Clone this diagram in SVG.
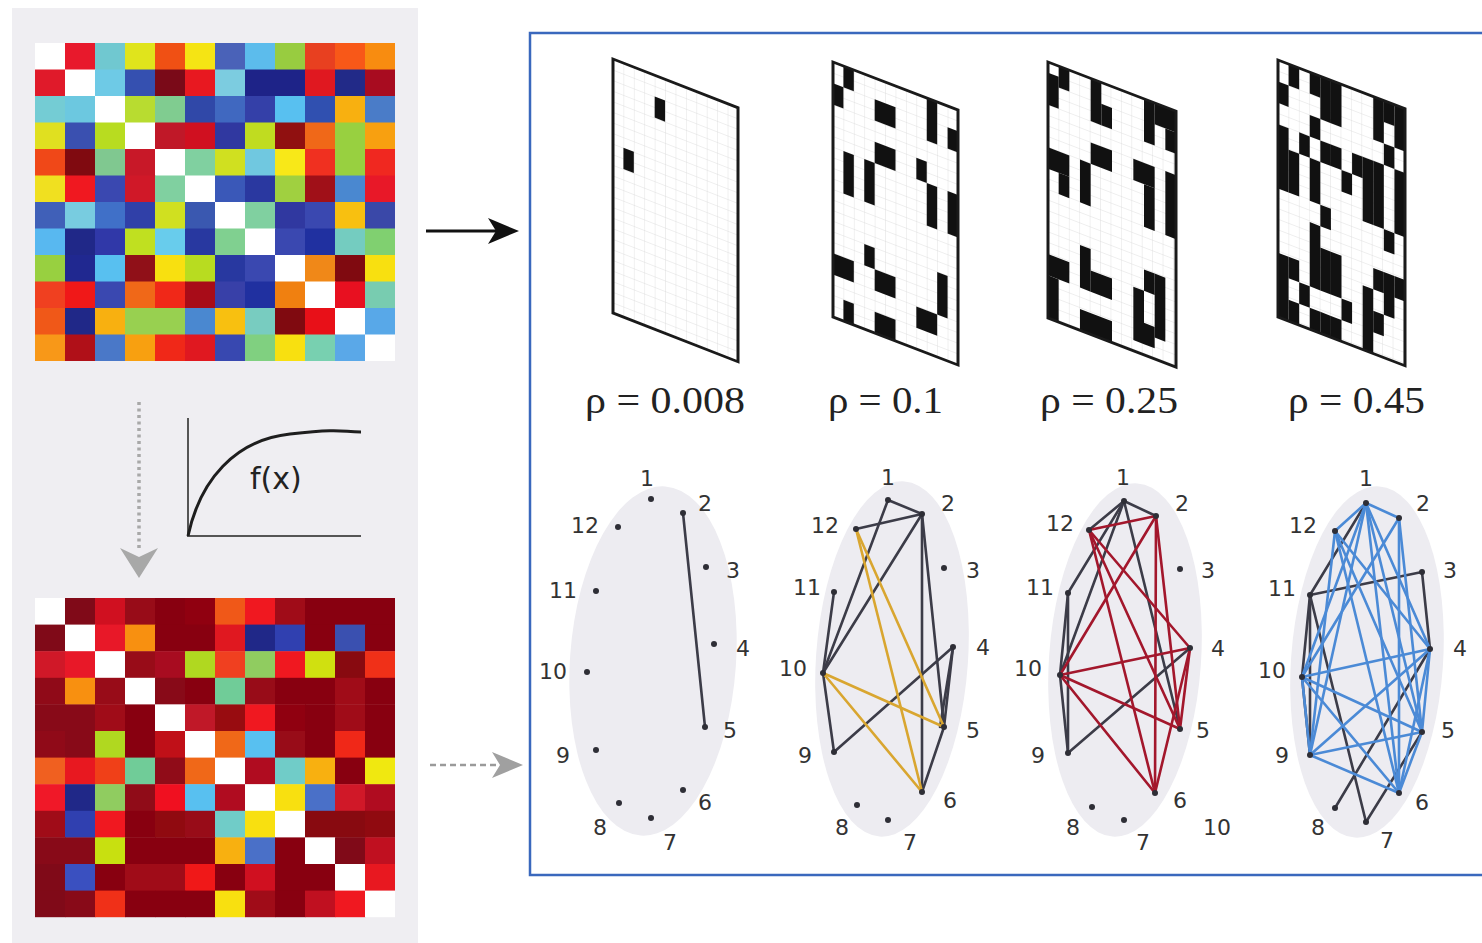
<svg xmlns="http://www.w3.org/2000/svg" width="1482" height="943" viewBox="0 0 1482 943">
<style>
.gn circle{fill:#2e2e36}
.gn text{font-family:"DejaVu Sans",sans-serif;font-size:22px;fill:#333;text-anchor:middle}
.e line{stroke-width:2.6;fill:none;stroke-linecap:round}
.eg line{stroke:#3c3c48}
.ey line{stroke:#d9a630}
.er line{stroke:#a3172c}
.eb line{stroke:#4b8ad6}
.rho{font-family:"Liberation Serif",serif;font-size:38px;fill:#222}
.bc rect{fill:#111}
.frame{fill:none;stroke:#1a1a1a;stroke-width:3}
.ell{fill:#edecf1}
</style>
<defs>
<pattern id="gp" patternUnits="userSpaceOnUse" width="10.417" height="10.583">
<path d="M0 0H10.417M0 0V10.583" stroke="#d2d2d2" stroke-width="0.7" fill="none"/>
</pattern>
</defs>
<rect x="0" y="0" width="1482" height="943" fill="#fff"/>
<rect x="12" y="8" width="406" height="935" fill="#efeef2"/>

<g id="matrix-top">
<g transform="translate(35,43)"><rect x="0" width="30.5" height="27" fill="#ffffff"/><rect x="30" width="30.5" height="27" fill="#e8192c"/><rect x="60" width="30.5" height="27" fill="#70c8d0"/><rect x="90" width="30.5" height="27" fill="#e0e41c"/><rect x="120" width="30.5" height="27" fill="#f05014"/><rect x="150" width="30.5" height="27" fill="#f5e414"/><rect x="180" width="30.5" height="27" fill="#4a62b8"/><rect x="210" width="30.5" height="27" fill="#5cbcec"/><rect x="240" width="30.5" height="27" fill="#98cc40"/><rect x="270" width="30.5" height="27" fill="#e84020"/><rect x="300" width="30.5" height="27" fill="#f85818"/><rect x="330" width="30" height="27" fill="#f88c10"/></g>
<g transform="translate(35,69.5)"><rect x="0" width="30.5" height="27" fill="#e01a2a"/><rect x="30" width="30.5" height="27" fill="#ffffff"/><rect x="60" width="30.5" height="27" fill="#6ecae6"/><rect x="90" width="30.5" height="27" fill="#3550b0"/><rect x="120" width="30.5" height="27" fill="#7a0a18"/><rect x="150" width="30.5" height="27" fill="#e81820"/><rect x="180" width="30.5" height="27" fill="#7ccce0"/><rect x="210" width="30.5" height="27" fill="#1e2388"/><rect x="240" width="30.5" height="27" fill="#1e2388"/><rect x="270" width="30.5" height="27" fill="#e01820"/><rect x="300" width="30.5" height="27" fill="#222a88"/><rect x="330" width="30" height="27" fill="#a80c20"/></g>
<g transform="translate(35,96)"><rect x="0" width="30.5" height="27" fill="#74ccd4"/><rect x="30" width="30.5" height="27" fill="#6cc8e0"/><rect x="60" width="30.5" height="27" fill="#ffffff"/><rect x="90" width="30.5" height="27" fill="#b8dc30"/><rect x="120" width="30.5" height="27" fill="#80cc90"/><rect x="150" width="30.5" height="27" fill="#3048a8"/><rect x="180" width="30.5" height="27" fill="#4068c0"/><rect x="210" width="30.5" height="27" fill="#3440a8"/><rect x="240" width="30.5" height="27" fill="#58c0f0"/><rect x="270" width="30.5" height="27" fill="#3050b0"/><rect x="300" width="30.5" height="27" fill="#f8b010"/><rect x="330" width="30" height="27" fill="#4a7cc8"/></g>
<g transform="translate(35,122.5)"><rect x="0" width="30.5" height="27" fill="#e0e020"/><rect x="30" width="30.5" height="27" fill="#3a50b0"/><rect x="60" width="30.5" height="27" fill="#b8dc20"/><rect x="90" width="30.5" height="27" fill="#ffffff"/><rect x="120" width="30.5" height="27" fill="#c01828"/><rect x="150" width="30.5" height="27" fill="#d01020"/><rect x="180" width="30.5" height="27" fill="#3038a0"/><rect x="210" width="30.5" height="27" fill="#c0dc20"/><rect x="240" width="30.5" height="27" fill="#901010"/><rect x="270" width="30.5" height="27" fill="#f06818"/><rect x="300" width="30.5" height="27" fill="#98d040"/><rect x="330" width="30" height="27" fill="#f8a010"/></g>
<g transform="translate(35,149)"><rect x="0" width="30.5" height="27" fill="#f04818"/><rect x="30" width="30.5" height="27" fill="#800a10"/><rect x="60" width="30.5" height="27" fill="#80c890"/><rect x="90" width="30.5" height="27" fill="#c81828"/><rect x="120" width="30.5" height="27" fill="#ffffff"/><rect x="150" width="30.5" height="27" fill="#80d0a0"/><rect x="180" width="30.5" height="27" fill="#d0e020"/><rect x="210" width="30.5" height="27" fill="#70c8e0"/><rect x="240" width="30.5" height="27" fill="#f8e818"/><rect x="270" width="30.5" height="27" fill="#f03020"/><rect x="300" width="30.5" height="27" fill="#98d040"/><rect x="330" width="30" height="27" fill="#f02820"/></g>
<g transform="translate(35,175.5)"><rect x="0" width="30.5" height="27" fill="#f0e020"/><rect x="30" width="30.5" height="27" fill="#f01820"/><rect x="60" width="30.5" height="27" fill="#3a48b0"/><rect x="90" width="30.5" height="27" fill="#d01828"/><rect x="120" width="30.5" height="27" fill="#80d0a0"/><rect x="150" width="30.5" height="27" fill="#ffffff"/><rect x="180" width="30.5" height="27" fill="#3a58b8"/><rect x="210" width="30.5" height="27" fill="#2a38a0"/><rect x="240" width="30.5" height="27" fill="#a0d040"/><rect x="270" width="30.5" height="27" fill="#a01018"/><rect x="300" width="30.5" height="27" fill="#4a88d0"/><rect x="330" width="30" height="27" fill="#e81828"/></g>
<g transform="translate(35,202)"><rect x="0" width="30.5" height="27" fill="#4060b8"/><rect x="30" width="30.5" height="27" fill="#78cce0"/><rect x="60" width="30.5" height="27" fill="#4070c8"/><rect x="90" width="30.5" height="27" fill="#3040a8"/><rect x="120" width="30.5" height="27" fill="#d0e020"/><rect x="150" width="30.5" height="27" fill="#3a58b0"/><rect x="180" width="30.5" height="27" fill="#ffffff"/><rect x="210" width="30.5" height="27" fill="#80d0a0"/><rect x="240" width="30.5" height="27" fill="#3038a0"/><rect x="270" width="30.5" height="27" fill="#3a48b0"/><rect x="300" width="30.5" height="27" fill="#f8c010"/><rect x="330" width="30" height="27" fill="#3a48a8"/></g>
<g transform="translate(35,228.5)"><rect x="0" width="30.5" height="27" fill="#58b8f0"/><rect x="30" width="30.5" height="27" fill="#202888"/><rect x="60" width="30.5" height="27" fill="#3038a8"/><rect x="90" width="30.5" height="27" fill="#c0e020"/><rect x="120" width="30.5" height="27" fill="#68ccec"/><rect x="150" width="30.5" height="27" fill="#2838a0"/><rect x="180" width="30.5" height="27" fill="#80d090"/><rect x="210" width="30.5" height="27" fill="#ffffff"/><rect x="240" width="30.5" height="27" fill="#3a48b0"/><rect x="270" width="30.5" height="27" fill="#2030a0"/><rect x="300" width="30.5" height="27" fill="#74ccc0"/><rect x="330" width="30" height="27" fill="#80d070"/></g>
<g transform="translate(35,255)"><rect x="0" width="30.5" height="27" fill="#98d040"/><rect x="30" width="30.5" height="27" fill="#202890"/><rect x="60" width="30.5" height="27" fill="#58c0f0"/><rect x="90" width="30.5" height="27" fill="#901018"/><rect x="120" width="30.5" height="27" fill="#f8e010"/><rect x="150" width="30.5" height="27" fill="#b8dc20"/><rect x="180" width="30.5" height="27" fill="#2838a0"/><rect x="210" width="30.5" height="27" fill="#3a48b0"/><rect x="240" width="30.5" height="27" fill="#ffffff"/><rect x="270" width="30.5" height="27" fill="#f08818"/><rect x="300" width="30.5" height="27" fill="#800a10"/><rect x="330" width="30" height="27" fill="#f8e010"/></g>
<g transform="translate(35,281.5)"><rect x="0" width="30.5" height="27" fill="#f04020"/><rect x="30" width="30.5" height="27" fill="#f01818"/><rect x="60" width="30.5" height="27" fill="#3a48b0"/><rect x="90" width="30.5" height="27" fill="#f06818"/><rect x="120" width="30.5" height="27" fill="#f02818"/><rect x="150" width="30.5" height="27" fill="#a80c18"/><rect x="180" width="30.5" height="27" fill="#3840a8"/><rect x="210" width="30.5" height="27" fill="#2030a0"/><rect x="240" width="30.5" height="27" fill="#f08010"/><rect x="270" width="30.5" height="27" fill="#ffffff"/><rect x="300" width="30.5" height="27" fill="#e81020"/><rect x="330" width="30" height="27" fill="#78ccb0"/></g>
<g transform="translate(35,308)"><rect x="0" width="30.5" height="27" fill="#f05818"/><rect x="30" width="30.5" height="27" fill="#202888"/><rect x="60" width="30.5" height="27" fill="#f8b010"/><rect x="90" width="30.5" height="27" fill="#98d050"/><rect x="120" width="30.5" height="27" fill="#98d050"/><rect x="150" width="30.5" height="27" fill="#4a88d0"/><rect x="180" width="30.5" height="27" fill="#f8c010"/><rect x="210" width="30.5" height="27" fill="#78ccc0"/><rect x="240" width="30.5" height="27" fill="#800a10"/><rect x="270" width="30.5" height="27" fill="#e81018"/><rect x="300" width="30.5" height="27" fill="#ffffff"/><rect x="330" width="30" height="27" fill="#58a8e8"/></g>
<g transform="translate(35,334.5)"><rect x="0" width="30.5" height="26.5" fill="#f89818"/><rect x="30" width="30.5" height="26.5" fill="#b01018"/><rect x="60" width="30.5" height="26.5" fill="#4a78c8"/><rect x="90" width="30.5" height="26.5" fill="#f8a010"/><rect x="120" width="30.5" height="26.5" fill="#f02818"/><rect x="150" width="30.5" height="26.5" fill="#e01820"/><rect x="180" width="30.5" height="26.5" fill="#3848b0"/><rect x="210" width="30.5" height="26.5" fill="#80d080"/><rect x="240" width="30.5" height="26.5" fill="#f8e010"/><rect x="270" width="30.5" height="26.5" fill="#78d0b0"/><rect x="300" width="30.5" height="26.5" fill="#5aa8e8"/><rect x="330" width="30" height="26.5" fill="#ffffff"/></g>
</g>

<g id="matrix-bottom">
<g transform="translate(35,598)"><rect x="0" width="30.5" height="27" fill="#ffffff"/><rect x="30" width="30.5" height="27" fill="#800a18"/><rect x="60" width="30.5" height="27" fill="#d01020"/><rect x="90" width="30.5" height="27" fill="#980c18"/><rect x="120" width="30.5" height="27" fill="#880010"/><rect x="150" width="30.5" height="27" fill="#900010"/><rect x="180" width="30.5" height="27" fill="#f05818"/><rect x="210" width="30.5" height="27" fill="#f01820"/><rect x="240" width="30.5" height="27" fill="#a00c18"/><rect x="270" width="30.5" height="27" fill="#880010"/><rect x="300" width="30.5" height="27" fill="#880010"/><rect x="330" width="30" height="27" fill="#880010"/></g>
<g transform="translate(35,624.6)"><rect x="0" width="30.5" height="27" fill="#800a18"/><rect x="30" width="30.5" height="27" fill="#ffffff"/><rect x="60" width="30.5" height="27" fill="#e81828"/><rect x="90" width="30.5" height="27" fill="#f89010"/><rect x="120" width="30.5" height="27" fill="#880010"/><rect x="150" width="30.5" height="27" fill="#880010"/><rect x="180" width="30.5" height="27" fill="#e01820"/><rect x="210" width="30.5" height="27" fill="#202888"/><rect x="240" width="30.5" height="27" fill="#3040b0"/><rect x="270" width="30.5" height="27" fill="#880010"/><rect x="300" width="30.5" height="27" fill="#3a50b0"/><rect x="330" width="30" height="27" fill="#880010"/></g>
<g transform="translate(35,651.2)"><rect x="0" width="30.5" height="27" fill="#d01828"/><rect x="30" width="30.5" height="27" fill="#e81828"/><rect x="60" width="30.5" height="27" fill="#ffffff"/><rect x="90" width="30.5" height="27" fill="#980c18"/><rect x="120" width="30.5" height="27" fill="#a80c20"/><rect x="150" width="30.5" height="27" fill="#b0d820"/><rect x="180" width="30.5" height="27" fill="#f04020"/><rect x="210" width="30.5" height="27" fill="#90cc60"/><rect x="240" width="30.5" height="27" fill="#f01820"/><rect x="270" width="30.5" height="27" fill="#d0e010"/><rect x="300" width="30.5" height="27" fill="#880a10"/><rect x="330" width="30" height="27" fill="#f03018"/></g>
<g transform="translate(35,677.8)"><rect x="0" width="30.5" height="27" fill="#900a18"/><rect x="30" width="30.5" height="27" fill="#f89010"/><rect x="60" width="30.5" height="27" fill="#980c18"/><rect x="90" width="30.5" height="27" fill="#ffffff"/><rect x="120" width="30.5" height="27" fill="#880a18"/><rect x="150" width="30.5" height="27" fill="#880010"/><rect x="180" width="30.5" height="27" fill="#70cc98"/><rect x="210" width="30.5" height="27" fill="#980c18"/><rect x="240" width="30.5" height="27" fill="#880010"/><rect x="270" width="30.5" height="27" fill="#880010"/><rect x="300" width="30.5" height="27" fill="#a00c18"/><rect x="330" width="30" height="27" fill="#880010"/></g>
<g transform="translate(35,704.4)"><rect x="0" width="30.5" height="27" fill="#880a18"/><rect x="30" width="30.5" height="27" fill="#880a18"/><rect x="60" width="30.5" height="27" fill="#a00c18"/><rect x="90" width="30.5" height="27" fill="#880010"/><rect x="120" width="30.5" height="27" fill="#ffffff"/><rect x="150" width="30.5" height="27" fill="#c01828"/><rect x="180" width="30.5" height="27" fill="#980c10"/><rect x="210" width="30.5" height="27" fill="#f01820"/><rect x="240" width="30.5" height="27" fill="#900010"/><rect x="270" width="30.5" height="27" fill="#880010"/><rect x="300" width="30.5" height="27" fill="#a00c18"/><rect x="330" width="30" height="27" fill="#880010"/></g>
<g transform="translate(35,731)"><rect x="0" width="30.5" height="27" fill="#900a18"/><rect x="30" width="30.5" height="27" fill="#880a18"/><rect x="60" width="30.5" height="27" fill="#b0d820"/><rect x="90" width="30.5" height="27" fill="#880010"/><rect x="120" width="30.5" height="27" fill="#c01018"/><rect x="150" width="30.5" height="27" fill="#ffffff"/><rect x="180" width="30.5" height="27" fill="#f06818"/><rect x="210" width="30.5" height="27" fill="#58c0f0"/><rect x="240" width="30.5" height="27" fill="#980c18"/><rect x="270" width="30.5" height="27" fill="#880010"/><rect x="300" width="30.5" height="27" fill="#f02818"/><rect x="330" width="30" height="27" fill="#880010"/></g>
<g transform="translate(35,757.6)"><rect x="0" width="30.5" height="27" fill="#f06020"/><rect x="30" width="30.5" height="27" fill="#e81820"/><rect x="60" width="30.5" height="27" fill="#f04018"/><rect x="90" width="30.5" height="27" fill="#70cc98"/><rect x="120" width="30.5" height="27" fill="#900c18"/><rect x="150" width="30.5" height="27" fill="#f06818"/><rect x="180" width="30.5" height="27" fill="#ffffff"/><rect x="210" width="30.5" height="27" fill="#b00c20"/><rect x="240" width="30.5" height="27" fill="#70ccc8"/><rect x="270" width="30.5" height="27" fill="#f8b010"/><rect x="300" width="30.5" height="27" fill="#880010"/><rect x="330" width="30" height="27" fill="#f0e810"/></g>
<g transform="translate(35,784.2)"><rect x="0" width="30.5" height="27" fill="#f01828"/><rect x="30" width="30.5" height="27" fill="#202888"/><rect x="60" width="30.5" height="27" fill="#90cc60"/><rect x="90" width="30.5" height="27" fill="#900c18"/><rect x="120" width="30.5" height="27" fill="#f01020"/><rect x="150" width="30.5" height="27" fill="#58c0f0"/><rect x="180" width="30.5" height="27" fill="#b00c20"/><rect x="210" width="30.5" height="27" fill="#ffffff"/><rect x="240" width="30.5" height="27" fill="#f8e010"/><rect x="270" width="30.5" height="27" fill="#4a70c8"/><rect x="300" width="30.5" height="27" fill="#d01828"/><rect x="330" width="30" height="27" fill="#b00c20"/></g>
<g transform="translate(35,810.8)"><rect x="0" width="30.5" height="27" fill="#a00c18"/><rect x="30" width="30.5" height="27" fill="#3040b0"/><rect x="60" width="30.5" height="27" fill="#f01820"/><rect x="90" width="30.5" height="27" fill="#880010"/><rect x="120" width="30.5" height="27" fill="#900a10"/><rect x="150" width="30.5" height="27" fill="#980c18"/><rect x="180" width="30.5" height="27" fill="#70ccc8"/><rect x="210" width="30.5" height="27" fill="#f8e010"/><rect x="240" width="30.5" height="27" fill="#ffffff"/><rect x="270" width="30.5" height="27" fill="#880a10"/><rect x="300" width="30.5" height="27" fill="#880a10"/><rect x="330" width="30" height="27" fill="#900a10"/></g>
<g transform="translate(35,837.4)"><rect x="0" width="30.5" height="27" fill="#880a18"/><rect x="30" width="30.5" height="27" fill="#880a18"/><rect x="60" width="30.5" height="27" fill="#c8e010"/><rect x="90" width="30.5" height="27" fill="#880010"/><rect x="120" width="30.5" height="27" fill="#880010"/><rect x="150" width="30.5" height="27" fill="#880010"/><rect x="180" width="30.5" height="27" fill="#f8b010"/><rect x="210" width="30.5" height="27" fill="#4a70c8"/><rect x="240" width="30.5" height="27" fill="#880010"/><rect x="270" width="30.5" height="27" fill="#ffffff"/><rect x="300" width="30.5" height="27" fill="#800a18"/><rect x="330" width="30" height="27" fill="#c01020"/></g>
<g transform="translate(35,864)"><rect x="0" width="30.5" height="27" fill="#800a18"/><rect x="30" width="30.5" height="27" fill="#3a50c0"/><rect x="60" width="30.5" height="27" fill="#880010"/><rect x="90" width="30.5" height="27" fill="#a00c18"/><rect x="120" width="30.5" height="27" fill="#a00c18"/><rect x="150" width="30.5" height="27" fill="#f01818"/><rect x="180" width="30.5" height="27" fill="#880010"/><rect x="210" width="30.5" height="27" fill="#d01020"/><rect x="240" width="30.5" height="27" fill="#880010"/><rect x="270" width="30.5" height="27" fill="#880010"/><rect x="300" width="30.5" height="27" fill="#ffffff"/><rect x="330" width="30" height="27" fill="#e81820"/></g>
<g transform="translate(35,890.6)"><rect x="0" width="30.5" height="26.6" fill="#800a18"/><rect x="30" width="30.5" height="26.6" fill="#880a18"/><rect x="60" width="30.5" height="26.6" fill="#f03018"/><rect x="90" width="30.5" height="26.6" fill="#880010"/><rect x="120" width="30.5" height="26.6" fill="#880010"/><rect x="150" width="30.5" height="26.6" fill="#880010"/><rect x="180" width="30.5" height="26.6" fill="#f8e010"/><rect x="210" width="30.5" height="26.6" fill="#a00c18"/><rect x="240" width="30.5" height="26.6" fill="#880010"/><rect x="270" width="30.5" height="26.6" fill="#c01020"/><rect x="300" width="30.5" height="26.6" fill="#f01820"/><rect x="330" width="30" height="26.6" fill="#ffffff"/></g>
</g>

<g id="fx-plot">
<path d="M188 418V536H361" fill="none" stroke="#555" stroke-width="2"/>
<path d="M188 536C200 480 235 440 290 434S340 432 361 432" fill="none" stroke="#1e1e1e" stroke-width="3"/>
<text x="250" y="489" font-family="DejaVu Sans, sans-serif" font-size="30" fill="#222">f(x)</text>
</g>

<rect id="frame" x="530" y="33" width="970" height="842" fill="none" stroke="#3a68bd" stroke-width="2.5"/>

<g id="grid1" transform="translate(613,59) skewY(21.3)">
<rect width="125" height="254" fill="#fff"/><rect width="125" height="254" fill="url(#gp)"/>
<g class="bc" transform="scale(10.417,10.583)"><rect x="4" y="2" width="1" height="2"/><rect x="1" y="8" width="1" height="2"/></g>
<rect class="frame" width="125" height="254"/>
</g>
<g id="grid2" transform="translate(833,62) skewY(21)">
<rect width="125" height="255" fill="#fff"/><rect width="125" height="255" fill="url(#gp)"/>
<g class="bc" transform="scale(10.417,10.625)">
<rect x="1" y="0" width="1" height="2"/><rect x="0" y="2" width="1" height="2"/><rect x="4" y="2" width="2" height="2"/><rect x="9" y="0" width="1" height="4"/><rect x="11" y="2" width="1" height="2"/><rect x="4" y="6" width="2" height="2"/><rect x="1" y="8" width="1" height="4"/><rect x="3" y="8" width="1" height="4"/><rect x="8" y="6" width="1" height="2"/><rect x="9" y="8" width="1" height="4"/><rect x="11" y="8" width="1" height="4"/><rect x="3" y="16" width="1" height="2"/><rect x="0" y="18" width="2" height="2"/><rect x="4" y="18" width="2" height="2"/><rect x="10" y="16" width="1" height="4"/><rect x="1" y="22" width="1" height="2"/><rect x="4" y="22" width="2" height="2"/><rect x="8" y="20" width="2" height="2"/>
</g>
<rect class="frame" width="125" height="255"/>
</g>
<g id="grid3" transform="translate(1048,62) skewY(21)">
<rect width="128" height="256" fill="#fff"/><rect width="128" height="256" fill="url(#gp)"/>
<g class="bc" transform="scale(10.667,10.667)">
<rect x="1" y="0" width="1" height="2"/><rect x="0" y="1" width="1" height="3"/><rect x="4" y="0" width="1" height="4"/><rect x="5" y="2" width="1" height="2"/><rect x="9" y="0" width="1" height="4"/><rect x="10" y="0" width="2" height="2"/><rect x="11" y="2" width="1" height="2"/><rect x="4" y="6" width="2" height="2"/><rect x="0" y="8" width="2" height="2"/><rect x="1" y="10" width="1" height="2"/><rect x="3" y="8" width="1" height="4"/><rect x="8" y="6" width="2" height="2"/><rect x="9" y="8" width="1" height="4"/><rect x="11" y="6" width="1" height="6"/><rect x="3" y="16" width="1" height="4"/><rect x="0" y="18" width="2" height="2"/><rect x="4" y="18" width="2" height="2"/><rect x="0" y="20" width="1" height="4"/><rect x="3" y="22" width="3" height="2"/><rect x="8" y="18" width="1" height="5"/><rect x="9" y="16" width="1" height="2"/><rect x="9" y="21" width="1" height="2"/><rect x="10" y="16" width="1" height="6"/>
</g>
<rect class="frame" width="128" height="256"/>
</g>
<g id="grid4" transform="translate(1278,60) skewY(21)">
<rect width="127" height="257" fill="#fff"/><rect width="127" height="257" fill="url(#gp)"/>
<g class="bc" transform="scale(10.583,10.708)">
<rect x="0" y="2" width="1" height="2"/><rect x="0" y="6" width="1" height="6"/><rect x="0" y="18" width="1" height="6"/>
<rect x="1" y="0" width="1" height="2"/><rect x="1" y="8" width="1" height="4"/><rect x="1" y="18" width="1" height="2"/><rect x="1" y="22" width="1" height="2"/>
<rect x="2" y="6" width="1" height="2"/><rect x="2" y="20" width="1" height="2"/>
<rect x="3" y="0" width="1" height="2"/><rect x="3" y="4" width="1" height="2"/><rect x="3" y="8" width="1" height="4"/><rect x="3" y="14" width="1" height="6"/><rect x="3" y="22" width="1" height="2"/>
<rect x="4" y="0" width="1" height="4"/><rect x="4" y="6" width="1" height="2"/><rect x="4" y="12" width="1" height="2"/><rect x="4" y="16" width="1" height="4"/><rect x="4" y="22" width="1" height="2"/>
<rect x="5" y="0" width="1" height="4"/><rect x="5" y="6" width="1" height="2"/><rect x="5" y="16" width="1" height="4"/><rect x="5" y="22" width="1" height="2"/>
<rect x="6" y="8" width="1" height="2"/><rect x="6" y="20" width="1" height="2"/>
<rect x="7" y="6" width="1" height="2"/>
<rect x="8" y="6" width="1" height="6"/><rect x="8" y="18" width="1" height="6"/>
<rect x="9" y="0" width="1" height="4"/><rect x="9" y="6" width="1" height="6"/><rect x="9" y="16" width="1" height="2"/><rect x="9" y="20" width="1" height="2"/>
<rect x="10" y="0" width="1" height="2"/><rect x="10" y="4" width="1" height="2"/><rect x="10" y="12" width="1" height="2"/><rect x="10" y="16" width="1" height="4"/>
<rect x="11" y="0" width="1" height="4"/><rect x="11" y="6" width="1" height="6"/><rect x="11" y="16" width="1" height="2"/>
</g>
<rect class="frame" width="127" height="257"/>
</g>

<g id="rho-labels">
<text class="rho" x="585" y="413" textLength="160" lengthAdjust="spacingAndGlyphs">ρ = 0.008</text>
<text class="rho" x="828" y="413" textLength="115" lengthAdjust="spacingAndGlyphs">ρ = 0.1</text>
<text class="rho" x="1040" y="413" textLength="138" lengthAdjust="spacingAndGlyphs">ρ = 0.25</text>
<text class="rho" x="1288" y="413" textLength="137" lengthAdjust="spacingAndGlyphs">ρ = 0.45</text>
</g>

<g id="ellipses">
<ellipse class="ell" cx="653" cy="661" rx="83" ry="175" transform="rotate(4 653 661)"/>
<ellipse class="ell" cx="892" cy="659" rx="76" ry="178" transform="rotate(4 892 659)"/>
<ellipse class="ell" cx="1125" cy="660" rx="76" ry="177" transform="rotate(4 1125 660)"/>
<ellipse class="ell" cx="1367" cy="662" rx="76" ry="176" transform="rotate(4 1367 662)"/>
</g>

<g id="connectors">
<g id="arrows">
<line x1="426" y1="231" x2="506" y2="231" stroke="#111" stroke-width="3"/>
<polygon points="488,218 519,231 488,244 496,231" fill="#111"/>
<line x1="430" y1="765" x2="500" y2="765" stroke="#9a9a9a" stroke-width="2.5" stroke-dasharray="6 4"/>
<polygon points="492,752 523,765 492,778 500,765" fill="#a0a0a0"/>
<line x1="139" y1="402" x2="139" y2="548" stroke="#a8a8a8" stroke-width="3.5" stroke-dasharray="3 3.5"/>
<polygon points="120,548 139,557 158,548 139,578" fill="#a8a8a8"/>
</g>
<g class="e eg">
<line x1="683" y1="513" x2="705" y2="727"/>
</g>
<g class="e eg">
<line x1="888" y1="500" x2="922" y2="514"/><line x1="888" y1="500" x2="823" y2="673"/><line x1="856" y1="529" x2="922" y2="514"/><line x1="922" y1="514" x2="823" y2="673"/><line x1="922" y1="514" x2="922" y2="792"/><line x1="922" y1="514" x2="944" y2="727"/><line x1="834" y1="592" x2="823" y2="673"/><line x1="823" y1="673" x2="834" y2="752"/><line x1="834" y1="752" x2="953" y2="647"/><line x1="953" y1="647" x2="944" y2="727"/><line x1="953" y1="647" x2="940" y2="727"/><line x1="944" y1="727" x2="922" y2="792"/>
</g>
<g class="e ey">
<line x1="856" y1="529" x2="944" y2="727"/><line x1="856" y1="529" x2="922" y2="792"/><line x1="823" y1="673" x2="944" y2="727"/><line x1="823" y1="673" x2="922" y2="792"/>
</g>
<g class="e eg">
<line x1="1124" y1="501" x2="1156" y2="516"/><line x1="1124" y1="501" x2="1089" y2="530"/><line x1="1124" y1="501" x2="1068" y2="593"/><line x1="1124" y1="501" x2="1060" y2="675"/><line x1="1124" y1="501" x2="1180" y2="729"/><line x1="1068" y1="593" x2="1060" y2="675"/><line x1="1068" y1="593" x2="1068" y2="753"/><line x1="1060" y1="675" x2="1068" y2="753"/><line x1="1068" y1="753" x2="1190" y2="648"/>
</g>
<g class="e er">
<line x1="1089" y1="530" x2="1156" y2="516"/><line x1="1156" y1="516" x2="1060" y2="675"/><line x1="1156" y1="516" x2="1155" y2="793"/><line x1="1156" y1="516" x2="1180" y2="729"/><line x1="1089" y1="530" x2="1190" y2="648"/><line x1="1089" y1="530" x2="1180" y2="729"/><line x1="1089" y1="530" x2="1155" y2="793"/><line x1="1060" y1="675" x2="1190" y2="648"/><line x1="1060" y1="675" x2="1180" y2="729"/><line x1="1060" y1="675" x2="1155" y2="793"/><line x1="1190" y1="648" x2="1180" y2="729"/><line x1="1190" y1="648" x2="1155" y2="793"/>
</g>
<g class="e eg">
<line x1="1366" y1="503" x2="1310" y2="595"/><line x1="1310" y1="595" x2="1422" y2="572"/><line x1="1422" y1="572" x2="1430" y2="649"/><line x1="1310" y1="595" x2="1302" y2="677"/><line x1="1310" y1="595" x2="1310" y2="755"/><line x1="1310" y1="595" x2="1366" y2="822"/><line x1="1430" y1="649" x2="1335" y2="808"/><line x1="1422" y1="732" x2="1366" y2="822"/><line x1="1302" y1="677" x2="1310" y2="755"/>
</g>
<g class="e eb">
<line x1="1366" y1="503" x2="1335" y2="531"/><line x1="1366" y1="503" x2="1399" y2="518"/><line x1="1366" y1="503" x2="1302" y2="677"/><line x1="1366" y1="503" x2="1310" y2="755"/><line x1="1366" y1="503" x2="1422" y2="732"/><line x1="1366" y1="503" x2="1399" y2="793"/><line x1="1366" y1="503" x2="1430" y2="649"/><line x1="1399" y1="518" x2="1302" y2="677"/><line x1="1399" y1="518" x2="1399" y2="793"/><line x1="1399" y1="518" x2="1422" y2="732"/><line x1="1335" y1="531" x2="1422" y2="732"/><line x1="1335" y1="531" x2="1399" y2="793"/><line x1="1335" y1="531" x2="1430" y2="649"/><line x1="1335" y1="531" x2="1310" y2="755"/><line x1="1302" y1="677" x2="1430" y2="649"/><line x1="1302" y1="677" x2="1422" y2="732"/><line x1="1302" y1="677" x2="1399" y2="793"/><line x1="1310" y1="755" x2="1430" y2="649"/><line x1="1310" y1="755" x2="1422" y2="732"/><line x1="1310" y1="755" x2="1399" y2="793"/><line x1="1430" y1="649" x2="1422" y2="732"/><line x1="1430" y1="649" x2="1399" y2="793"/><line x1="1422" y1="732" x2="1399" y2="793"/><line x1="1302" y1="677" x2="1310" y2="755"/>
</g>
</g>

<g id="graph1">
<g id="g1-n1" class="gn"><circle cx="651" cy="499" r="3"/><text x="647" y="486">1</text></g>
<g id="g1-n2" class="gn"><circle cx="683" cy="513" r="3"/><text x="705" y="511">2</text></g>
<g id="g1-n3" class="gn"><circle cx="706" cy="567" r="3"/><text x="733" y="578">3</text></g>
<g id="g1-n4" class="gn"><circle cx="714" cy="644" r="3"/><text x="743" y="656">4</text></g>
<g id="g1-n5" class="gn"><circle cx="705" cy="727" r="3"/><text x="730" y="738">5</text></g>
<g id="g1-n6" class="gn"><circle cx="683" cy="790" r="3"/><text x="705" y="810">6</text></g>
<g id="g1-n7" class="gn"><circle cx="651" cy="818" r="3"/><text x="670" y="850">7</text></g>
<g id="g1-n8" class="gn"><circle cx="619" cy="803" r="3"/><text x="600" y="835">8</text></g>
<g id="g1-n9" class="gn"><circle cx="596" cy="750" r="3"/><text x="563" y="763">9</text></g>
<g id="g1-n10" class="gn"><circle cx="587" cy="672" r="3"/><text x="553" y="679">10</text></g>
<g id="g1-n11" class="gn"><circle cx="596" cy="591" r="3"/><text x="563" y="598">11</text></g>
<g id="g1-n12" class="gn"><circle cx="618" cy="527" r="3"/><text x="585" y="533">12</text></g>
</g>
<g id="graph2">
<g id="g2-n1" class="gn"><circle cx="888" cy="500" r="3"/><text x="888" y="485">1</text></g>
<g id="g2-n2" class="gn"><circle cx="922" cy="514" r="3"/><text x="948" y="511">2</text></g>
<g id="g2-n3" class="gn"><circle cx="944" cy="568" r="3"/><text x="973" y="578">3</text></g>
<g id="g2-n4" class="gn"><circle cx="953" cy="647" r="3"/><text x="983" y="655">4</text></g>
<g id="g2-n5" class="gn"><circle cx="944" cy="727" r="3"/><text x="973" y="738">5</text></g>
<g id="g2-n6" class="gn"><circle cx="922" cy="792" r="3"/><text x="950" y="808">6</text></g>
<g id="g2-n7" class="gn"><circle cx="888" cy="820" r="3"/><text x="910" y="850">7</text></g>
<g id="g2-n8" class="gn"><circle cx="857" cy="805" r="3"/><text x="842" y="835">8</text></g>
<g id="g2-n9" class="gn"><circle cx="834" cy="752" r="3"/><text x="805" y="763">9</text></g>
<g id="g2-n10" class="gn"><circle cx="823" cy="673" r="3"/><text x="793" y="676">10</text></g>
<g id="g2-n11" class="gn"><circle cx="834" cy="592" r="3"/><text x="807" y="595">11</text></g>
<g id="g2-n12" class="gn"><circle cx="856" cy="529" r="3"/><text x="825" y="533">12</text></g>
</g>
<g id="graph3">
<g id="g3-n1" class="gn"><circle cx="1124" cy="501" r="3"/><text x="1123" y="485">1</text></g>
<g id="g3-n2" class="gn"><circle cx="1156" cy="516" r="3"/><text x="1182" y="511">2</text></g>
<g id="g3-n3" class="gn"><circle cx="1180" cy="569" r="3"/><text x="1208" y="578">3</text></g>
<g id="g3-n4" class="gn"><circle cx="1190" cy="648" r="3"/><text x="1218" y="656">4</text></g>
<g id="g3-n5" class="gn"><circle cx="1180" cy="729" r="3"/><text x="1203" y="738">5</text></g>
<g id="g3-n6" class="gn"><circle cx="1155" cy="793" r="3"/><text x="1180" y="808">6</text></g>
<g id="g3-n7" class="gn"><circle cx="1124" cy="820" r="3"/><text x="1143" y="850">7</text></g>
<g id="g3-n8" class="gn"><circle cx="1092" cy="807" r="3"/><text x="1073" y="835">8</text></g>
<g id="g3-n9" class="gn"><circle cx="1068" cy="753" r="3"/><text x="1038" y="763">9</text></g>
<g id="g3-n10" class="gn"><circle cx="1060" cy="675" r="3"/><text x="1028" y="676">10</text></g>
<g id="g3-n11" class="gn"><circle cx="1068" cy="593" r="3"/><text x="1040" y="595">11</text></g>
<g id="g3-n12" class="gn"><circle cx="1089" cy="530" r="3"/><text x="1060" y="531">12</text></g>
<g id="g3-extra" class="gn"><text x="1217" y="835">10</text></g>
</g>
<g id="graph4">
<g id="g4-n1" class="gn"><circle cx="1366" cy="503" r="3"/><text x="1366" y="486">1</text></g>
<g id="g4-n2" class="gn"><circle cx="1399" cy="518" r="3"/><text x="1423" y="511">2</text></g>
<g id="g4-n3" class="gn"><circle cx="1422" cy="572" r="3"/><text x="1450" y="578">3</text></g>
<g id="g4-n4" class="gn"><circle cx="1430" cy="649" r="3"/><text x="1460" y="656">4</text></g>
<g id="g4-n5" class="gn"><circle cx="1422" cy="732" r="3"/><text x="1448" y="738">5</text></g>
<g id="g4-n6" class="gn"><circle cx="1399" cy="793" r="3"/><text x="1422" y="810">6</text></g>
<g id="g4-n7" class="gn"><circle cx="1366" cy="822" r="3"/><text x="1387" y="848">7</text></g>
<g id="g4-n8" class="gn"><circle cx="1335" cy="808" r="3"/><text x="1318" y="835">8</text></g>
<g id="g4-n9" class="gn"><circle cx="1310" cy="755" r="3"/><text x="1282" y="763">9</text></g>
<g id="g4-n10" class="gn"><circle cx="1302" cy="677" r="3"/><text x="1272" y="678">10</text></g>
<g id="g4-n11" class="gn"><circle cx="1310" cy="595" r="3"/><text x="1282" y="596">11</text></g>
<g id="g4-n12" class="gn"><circle cx="1335" cy="531" r="3"/><text x="1303" y="533">12</text></g>
</g>
</svg>
